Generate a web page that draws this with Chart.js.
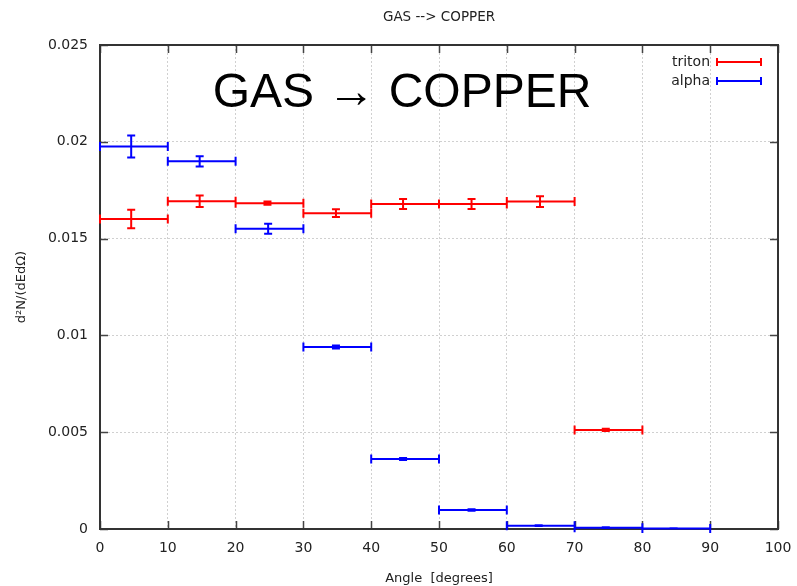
<!DOCTYPE html>
<html lang="en">
<head>
    <meta charset="UTF-8">
    <script src="https://cdn.jsdelivr.net/npm/chart.js@4/dist/chart.umd.min.js"></script>
    <style>
        html, body {
            margin: 0;
            padding: 0;
            background: #fff;
        }

        #wrap {
            width: 797px;
            height: 586px;
        }
    </style>
    <title>GAS --> COPPER</title>
</head>
<body>
    <div id="wrap">
        <canvas id="chartCanvas" width="797" height="586"></canvas>
    </div>

    <script>
        // angle bins (degrees): mean angle, bin edges
        const tritonAngle = [4.6, 14.7, 24.7, 34.8, 44.7, 54.8, 64.9, 74.6];
        const tritonLow = [0, 10, 20, 30, 40, 50, 60, 70];
        const tritonHigh = [10, 20, 30, 40, 50, 60, 70, 80];
        const tritonValue = [0.01601, 0.01693, 0.01683, 0.01631, 0.01679, 0.01679, 0.01691, 0.00512];
        const tritonErr = [0.00048, 0.00030, 0.00008, 0.00020, 0.00026, 0.00026, 0.00028, 0.00006];

        const alphaAngle = [4.6, 14.7, 24.8, 34.8, 44.7, 54.8, 64.7, 74.6, 84.6];
        const alphaLow = [0, 10, 20, 30, 40, 50, 60, 70, 80];
        const alphaHigh = [10, 20, 30, 40, 50, 60, 70, 80, 90];
        const alphaValue = [0.01976, 0.01899, 0.01551, 0.00940, 0.00362, 0.00098, 0.00017, 0.00007, 0.00003];
        const alphaErr = [0.00057, 0.00027, 0.00026, 0.00008, 0.00005, 0.00004, 0.00002, 0.00002, 0.00001];

        const xTicks = [0, 10, 20, 30, 40, 50, 60, 70, 80, 90, 100];
        const yTicks = [0, 0.005, 0.01, 0.015, 0.02, 0.025];
        const yTickLabels = ['0', '0.005', '0.01', '0.015', '0.02', '0.025'];

        const plotTitle = 'GAS --> COPPER';
        const bigLabel = 'GAS \u2192 COPPER';

        function makePoints(angle, low, high, value, err) {
            return angle.map((a, i) => ({ x: a, y: value[i], xMin: low[i], xMax: high[i], yErr: err[i] }));
        }

        const FONT = '"DejaVu Sans", sans-serif';

        // draws box, mirrored inward tics, x/y error bars, legend and labels
        const gnuplotLook = {
            id: 'gnuplotLook',
            beforeDatasetsDraw(chart) {
                const ctx = chart.ctx;
                const area = chart.chartArea;
                const xs = chart.scales.x;
                const ys = chart.scales.y;
                ctx.save();
                ctx.strokeStyle = '#444';
                ctx.lineWidth = 1.5;
                ctx.beginPath();
                for (const t of xTicks) {
                    const px = Math.round(xs.getPixelForValue(t)) + 0.5;
                    ctx.moveTo(px, area.bottom);
                    ctx.lineTo(px, area.bottom - 8);
                    ctx.moveTo(px, area.top);
                    ctx.lineTo(px, area.top + 8);
                }
                for (const t of yTicks) {
                    const py = Math.round(ys.getPixelForValue(t)) + 0.5;
                    ctx.moveTo(area.left, py);
                    ctx.lineTo(area.left + 8, py);
                    ctx.moveTo(area.right, py);
                    ctx.lineTo(area.right - 8, py);
                }
                ctx.stroke();
                ctx.lineWidth = 2;
                ctx.strokeStyle = '#333';
                ctx.strokeRect(area.left, area.top, area.right - area.left, area.bottom - area.top);
                ctx.restore();
            },
            afterDatasetsDraw(chart) {
                const ctx = chart.ctx;
                const area = chart.chartArea;
                const xs = chart.scales.x;
                const ys = chart.scales.y;
                ctx.save();
                ctx.lineWidth = 2;
                chart.data.datasets.forEach((ds) => {
                    ctx.strokeStyle = ds.borderColor;
                    ctx.beginPath();
                    for (const p of ds.data) {
                        const x0 = xs.getPixelForValue(p.xMin);
                        const x1 = xs.getPixelForValue(p.xMax);
                        const xc = xs.getPixelForValue(p.x);
                        const yc = ys.getPixelForValue(p.y);
                        const yt = ys.getPixelForValue(p.y + p.yErr);
                        const yb = ys.getPixelForValue(p.y - p.yErr);
                        // x error bar with end caps
                        ctx.moveTo(x0, yc);
                        ctx.lineTo(x1, yc);
                        ctx.moveTo(x0, yc - 4.5);
                        ctx.lineTo(x0, yc + 4.5);
                        ctx.moveTo(x1, yc - 4.5);
                        ctx.lineTo(x1, yc + 4.5);
                        // y error bar with end caps
                        ctx.moveTo(xc, yt);
                        ctx.lineTo(xc, yb);
                        ctx.moveTo(xc - 4, yt);
                        ctx.lineTo(xc + 4, yt);
                        ctx.moveTo(xc - 4, yb);
                        ctx.lineTo(xc + 4, yb);
                    }
                    ctx.stroke();
                });

                // key, top right
                ctx.font = '14px ' + FONT;
                ctx.textAlign = 'right';
                ctx.textBaseline = 'middle';
                chart.data.datasets.forEach((ds, i) => {
                    const ky = 62 + i * 19;
                    ctx.fillStyle = '#222';
                    ctx.fillText(ds.label, 710, ky);
                    ctx.strokeStyle = ds.borderColor;
                    ctx.beginPath();
                    ctx.moveTo(717, ky);
                    ctx.lineTo(761, ky);
                    ctx.moveTo(717, ky - 4);
                    ctx.lineTo(717, ky + 4);
                    ctx.moveTo(761, ky - 4);
                    ctx.lineTo(761, ky + 4);
                    ctx.stroke();
                });

                // label inside the plot
                ctx.fillStyle = '#000';
                ctx.textAlign = 'center';
                ctx.textBaseline = 'alphabetic';
                ctx.font = '48px "Liberation Sans", Arial, sans-serif';
                ctx.fillText(bigLabel, 402, 107);

                // plot title, centred over the plot area
                ctx.fillStyle = '#222';
                ctx.font = '13.5px ' + FONT;
                ctx.textBaseline = 'middle';
                ctx.fillText(plotTitle, (area.left + area.right) / 2, 17);
                ctx.restore();
            }
        };

        const ctx = document.getElementById('chartCanvas').getContext('2d');
        const chart = new Chart(ctx, {
            type: 'scatter',
            data: {
                datasets: [
                    {
                        label: 'triton',
                        data: makePoints(tritonAngle, tritonLow, tritonHigh, tritonValue, tritonErr),
                        borderColor: '#ff0000',
                        backgroundColor: '#ff0000',
                        pointRadius: 0,
                        showLine: false
                    },
                    {
                        label: 'alpha',
                        data: makePoints(alphaAngle, alphaLow, alphaHigh, alphaValue, alphaErr),
                        borderColor: '#0000ff',
                        backgroundColor: '#0000ff',
                        pointRadius: 0,
                        showLine: false
                    }
                ]
            },
            options: {
                responsive: false,
                animation: false,
                events: [],
                layout: {
                    padding: { left: 0, right: 19, top: 45, bottom: 0 }
                },
                plugins: {
                    legend: { display: false },
                    title: { display: false },
                    tooltip: { enabled: false }
                },
                scales: {
                    x: {
                        type: 'linear',
                        min: 0,
                        max: 100,
                        afterFit: (scale) => {
                            scale.height = 57;
                            scale.paddingLeft = 0;
                            scale.paddingRight = 0;
                        },
                        afterBuildTicks: (scale) => { scale.ticks = xTicks.map(v => ({ value: v })); },
                        ticks: {
                            padding: 11,
                            color: '#222',
                            font: { family: FONT, size: 14 },
                            maxRotation: 0,
                            callback: (v) => String(v)
                        },
                        grid: {
                            color: '#d0d0d0',
                            lineWidth: 1,
                            drawTicks: false
                        },
                        border: { display: false, dash: [2, 2] },
                        title: {
                            display: true,
                            text: 'Angle  [degrees]',
                            color: '#222',
                            font: { family: FONT, size: 13 },
                            padding: { top: 2, bottom: 0 }
                        }
                    },
                    y: {
                        type: 'linear',
                        min: 0,
                        max: 0.025,
                        afterFit: (scale) => {
                            scale.width = 100;
                            scale.paddingTop = 0;
                            scale.paddingBottom = 0;
                        },
                        afterBuildTicks: (scale) => { scale.ticks = yTicks.map(v => ({ value: v })); },
                        ticks: {
                            padding: 12,
                            color: '#222',
                            font: { family: FONT, size: 14 },
                            callback: (v) => yTickLabels[yTicks.findIndex(t => Math.abs(t - v) < 1e-9)]
                        },
                        grid: {
                            color: '#d0d0d0',
                            lineWidth: 1,
                            drawTicks: false
                        },
                        border: { display: false, dash: [2, 2] },
                        title: {
                            display: true,
                            text: 'd\u00b2N/(dEd\u03a9)',
                            color: '#222',
                            font: { family: FONT, size: 13 },
                            padding: { top: 14, bottom: 0 }
                        }
                    }
                }
            },
            plugins: [gnuplotLook]
        });
    </script>
</body>
</html>
